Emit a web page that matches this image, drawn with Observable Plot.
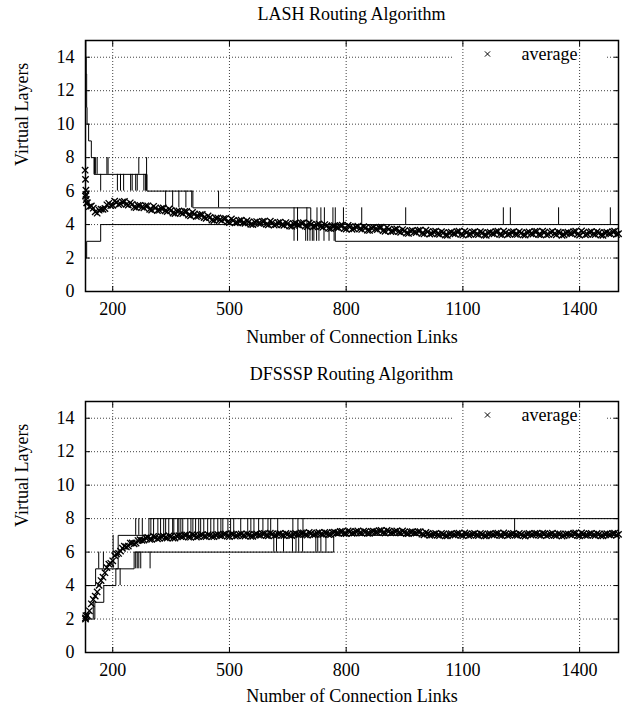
<!DOCTYPE html>
<html><head><meta charset="utf-8">
<script src="https://cdn.jsdelivr.net/npm/d3@7"></script>
<script src="https://cdn.jsdelivr.net/npm/@observablehq/plot@0.6"></script>
<style>
html,body{margin:0;padding:0;background:#fff;}
body{width:629px;height:706px;overflow:hidden;font-family:"Liberation Serif","Times New Roman",serif;color:#000;}
.title{height:28px;line-height:28px;font-size:18px;text-align:center;padding-left:85px;padding-right:11px;white-space:nowrap;}
svg{display:block;}
svg text{font-family:"Liberation Serif","Times New Roman",serif !important;}
</style></head>
<body>
<div id="p1"></div>
<div id="p2"></div>
<script>
// ---- axes / ticks ----
const xDomain = [130, 1500];
const yDomain = [0, 15];
const xTicks = [200, 500, 800, 1100, 1400];
const yTicks = [0, 2, 4, 6, 8, 10, 12, 14];
const yGrid = [2, 4, 6, 8, 10, 12, 14];
const avgStart = 130, avgStep = 5;   // "average" samples every 5 links from 130

// ---- LASH ----
const lashMaxSteps = [[130,15],[131,14],[132,13],[133,11],[134,10],[138,9],[145,8],[152,7],[288,6],[406,5],[709,4],[1500,4]];
const lashMinSteps = [[130,2],[133,3],[169,4],[772,3],[1500,3]];
const lashMaxSpikes = [[153,7,8],[156,7,8],[160,7,8],[169,6,7],[185,7,8],[188,7,8],
  [212,6,7],[220,6,7],[228,6,7],[246,6,7],[250,6,7],[259,6,7],[263,6,7],[280,6,7],[284,6,7],
  [267,7,8],[287,6,8],
  [336,5,6],[354,5,6],[370,5,6],[388,5,6],[403,5,6],[472,5,6],
  [666,4,5],[675,4,5],[699,4,5],[725,4,5],[735,4,5],[744,4,5],[766,4,5],[772,4,5],[793,4,5],
  [840,4,5],[953,4,5],[1204,4,5],[1222,4,5],[1346,4,5],[1479,4,5]];
const lashMinSpikes = [[666,3,4],[675,3,4],[696,3,4],[701,3,4],[707,3,4],[713,3,4],[717,3,4],[724,3,4],[730,3,4],[743,3,4],[756,3,4],[769,3,4]];
const lashAvgFirst = [[129,7.25],[130,6.7],[131,6.05],[131,5.8],[132,5.5],[133,5.3]];
const lashAvg = [
  5.70,5.30,5.07,5.11,4.98,4.76,4.68,4.86,4.92,4.91,4.96,5.18,5.27,5.13,5.15,5.40,5.33,5.20,5.24,5.35,
  5.38,5.21,5.16,5.30,5.21,5.04,5.01,5.14,5.15,5.04,5.00,5.12,5.12,4.91,4.87,5.09,5.00,4.84,4.86,4.96,
  4.99,4.82,4.78,4.93,4.85,4.69,4.66,4.80,4.81,4.70,4.66,4.78,4.78,4.57,4.52,4.73,4.64,4.48,4.50,4.59,
  4.60,4.42,4.37,4.51,4.43,4.27,4.24,4.38,4.39,4.28,4.24,4.36,4.37,4.16,4.12,4.34,4.25,4.10,4.12,4.23,
  4.26,4.10,4.07,4.23,4.16,4.01,4.00,4.15,4.18,4.08,4.06,4.19,4.21,4.01,3.98,4.20,4.12,3.97,4.00,4.11,
  4.15,3.99,3.96,4.12,4.06,3.91,3.90,4.05,4.08,3.98,3.96,4.09,4.11,3.91,3.88,4.10,4.02,3.87,3.89,4.00,
  4.04,3.88,3.84,4.00,3.93,3.78,3.76,3.91,3.93,3.83,3.81,3.94,3.96,3.76,3.73,3.95,3.87,3.72,3.75,3.86,
  3.90,3.74,3.71,3.87,3.81,3.66,3.65,3.80,3.83,3.73,3.70,3.83,3.84,3.64,3.60,3.82,3.73,3.58,3.60,3.71,
  3.74,3.58,3.54,3.70,3.63,3.49,3.47,3.62,3.65,3.55,3.52,3.65,3.67,3.47,3.44,3.66,3.58,3.43,3.46,3.57,
  3.61,3.45,3.42,3.58,3.52,3.37,3.36,3.52,3.55,3.46,3.44,3.58,3.60,3.41,3.38,3.61,
  3.53,3.39,3.42,3.54,3.58,3.43,3.40,3.57,3.51,3.37,3.36,3.52,3.55,3.46,3.44,3.58,3.60,3.41,3.38,3.61,
  3.52,3.40,3.43,3.55,3.57,3.42,3.41,3.58,3.50,3.38,3.37,3.53,3.56,3.45,3.43,3.59,3.59,3.40,3.39,3.60,
  3.54,3.38,3.41,3.53,3.59,3.44,3.39,3.56,3.52,3.36,3.38,3.51,3.54,3.47,3.45,3.57,3.61,3.42,3.37,3.62,
  3.53,3.39,3.42,3.54,3.58,3.43,3.40,3.57,3.51,3.37,3.36,3.52,3.55,3.46,3.44,3.58,3.60,3.41,3.45];

// ---- DFSSSP ----
const dfMaxSteps = [[130,4],[156,5],[214,7],[293,8],[1500,8]];
const dfMinSteps = [[130,2],[154,3],[177,4],[208,5],[255,6],[768,7],[1500,7]];
const dfMaxSpikes = [[164,5,6],[176,5,6],[201,5,7],[259,7,8],[267,7,8],[276,7,8],
  [298,7,8],[305,7,8],[316,7,8],[323,7,8],[331,7,8],[336,7,8],[344,7,8],[354,7,8],[357,7,8],[367,7,8],
  [370,7,8],[375,7,8],[380,7,8],[393,7,8],[401,7,8],[406,7,8],[413,7,8],[421,7,8],[426,7,8],[434,7,8],
  [444,7,8],[452,7,8],[460,7,8],[470,7,8],[478,7,8],[483,7,8],[496,7,8],[503,7,8],[511,7,8],[529,7,8],
  [547,7,8],[555,7,8],[563,7,8],[575,7,8],[586,7,8],[599,7,8],[606,7,8],[624,7,8],[663,7,8],[676,7,8],
  [689,7,8],[1233,7,8]];
const dfMinSpikes = [[150,2,3],[219,4,5],[259,5,6],[263,5,6],[267,5,6],[272,5,6],[296,5,6],
  [614,6,7],[621,6,7],[639,6,7],[662,6,7],[671,6,7],[678,6,7],[688,6,7],[722,6,7],[727,6,7],[735,6,7],[748,6,7]];
const dfAvgFirst = [[130,2.0],[131,2.2]];
const dfAvg = [
  2.07,2.21,2.49,2.91,3.17,3.37,3.62,4.01,4.30,4.50,4.77,5.07,5.28,5.33,5.48,5.79,5.89,5.92,6.06,6.23,
  6.35,6.31,6.36,6.54,6.55,6.50,6.54,6.69,6.74,6.70,6.72,6.85,6.88,6.77,6.76,6.93,6.89,6.80,6.83,6.92,
  6.96,6.86,6.84,6.96,6.93,6.84,6.84,6.96,6.98,6.92,6.91,7.02,7.03,6.90,6.89,7.05,7.00,6.90,6.93,7.01,
  7.04,6.94,6.92,7.04,7.01,6.92,6.92,7.03,7.05,6.98,6.97,7.07,7.08,6.95,6.93,7.09,7.05,6.95,6.97,7.05,
  7.08,6.98,6.96,7.08,7.04,6.94,6.94,7.06,7.08,7.01,7.00,7.10,7.11,6.99,6.97,7.13,7.08,6.98,7.00,7.09,
  7.12,7.01,6.99,7.11,7.07,6.98,6.98,7.09,7.11,7.05,7.04,7.14,7.15,7.03,7.01,7.17,7.12,7.03,7.05,7.14,
  7.17,7.07,7.05,7.18,7.14,7.05,7.05,7.17,7.19,7.13,7.12,7.23,7.24,7.12,7.10,7.27,7.22,7.12,7.14,7.23,
  7.26,7.15,7.13,7.25,7.22,7.12,7.12,7.23,7.25,7.19,7.18,7.28,7.29,7.16,7.14,7.30,7.25,7.15,7.16,7.24,
  7.27,7.16,7.14,7.26,7.21,7.11,7.10,7.21,7.22,7.15,7.13,7.22,7.22,7.07,7.03,7.17,7.11,7.00,7.02,7.09,
  7.12,7.01,6.99,7.11,7.07,6.97,6.97,7.08,7.10,7.03,7.02,7.12,7.13,7.00,6.98,7.14,7.09,6.99,7.01,7.09,
  7.12,7.01,6.99,7.11,7.07,6.97,6.97,7.08,7.10,7.03,7.02,7.12,7.13,7.00,6.98,7.14,7.09,6.99,7.01,7.09,
  7.11,7.02,7.00,7.12,7.06,6.98,6.96,7.09,7.11,7.02,7.03,7.11,7.12,7.01,6.99,7.13,7.10,6.98,7.02,7.08,
  7.13,7.00,6.98,7.10,7.08,6.96,6.98,7.07,7.09,7.04,7.01,7.13,7.14,6.99,6.97,7.15,7.08,7.00,7.00,7.10,
  7.12,7.01,6.99,7.11,7.07,6.97,6.97,7.08,7.10,7.03,7.02,7.12,7.13,7.00,7.06];

// legend layout (data units, white key box over the y=14 grid line)
const legendMaskX = [1074, 1468];

function panel(el, title, maxSteps, minSteps, maxSpikes, minSpikes, avg, avgFirst, marginTop, height, labelDy) {
  const t = document.createElement("div");
  t.className = "title";
  t.textContent = title;
  el.appendChild(t);
  const marginBottom = height - marginTop - 251;
  const font = {fontFamily: "Liberation Serif", fontSize: 18};
  const lineStyle = {stroke: "#000", strokeWidth: 1};
  const avgData = avg.map((v, i) => [avgStart + avgStep * i, v]).concat(avgFirst);
  const svg = Plot.plot({
    width: 629, height,
    marginLeft: 85, marginRight: 11, marginTop, marginBottom,
    style: {fontFamily: "Liberation Serif", fontSize: "18px", background: "#fff", overflow: "visible"},
    x: {domain: xDomain},
    y: {domain: yDomain},
    marks: [
      Plot.gridY(yGrid, {stroke: "#000", strokeOpacity: 0.75, strokeDasharray: "1,2", strokeWidth: 1}),
      Plot.gridX(xTicks, {stroke: "#000", strokeOpacity: 0.75, strokeDasharray: "1,2", strokeWidth: 1}),
      Plot.axisX(xTicks, {tickSize: 0, tickPadding: 11, label: null, tickFormat: d => String(d), ...font}),
      Plot.axisY(yTicks, {tickSize: 0, tickPadding: 11, label: null, tickFormat: d => String(d), ...font}),
      Plot.axisY(yTicks, {anchor: "left", tickSize: 5, dx: 5, tickFormat: () => "", label: null}),
      Plot.axisY(yTicks, {anchor: "right", tickSize: 5, dx: -5, tickFormat: () => "", label: null}),
      Plot.axisX(xTicks, {anchor: "bottom", tickSize: 5, dy: -5, tickFormat: () => "", label: null}),
      Plot.axisX(xTicks, {anchor: "top", tickSize: 5, dy: 5, tickFormat: () => "", label: null}),
      Plot.ruleX(maxSpikes, {x: d => d[0], y1: d => d[1], y2: d => d[2], ...lineStyle}),
      Plot.ruleX(minSpikes, {x: d => d[0], y1: d => d[1], y2: d => d[2], ...lineStyle}),
      Plot.line(maxSteps, {x: d => d[0], y: d => d[1], curve: "step-after", ...lineStyle}),
      Plot.line(minSteps, {x: d => d[0], y: d => d[1], curve: "step-after", ...lineStyle}),
      Plot.dot(avgData, {x: d => d[0], y: d => d[1], symbol: "times", r: 3, stroke: "#000", strokeWidth: 1.35}),
      Plot.frame({stroke: "#000", strokeWidth: 1.5}),
      Plot.dot([0], {frameAnchor: "top-right", dx: -131, dy: 13.5, symbol: "times", r: 2.5, stroke: "#000", strokeWidth: 1}),
      Plot.text(["average"], {frameAnchor: "top-right", dx: -41, dy: 13.5, textAnchor: "end", lineAnchor: "middle", ...font}),
      Plot.text(["Number of Connection Links"], {frameAnchor: "bottom", dy: labelDy, lineAnchor: "middle", ...font}),
      Plot.text(["Virtual Layers"], {frameAnchor: "left", dx: -63, rotate: -90, lineAnchor: "middle", ...font})
    ]
  });
  const g = svg.querySelector('g[aria-label="y-grid"]');
  if (g) {
    const sx = svg.scale("x"), sy = svg.scale("y");
    const r = document.createElementNS("http://www.w3.org/2000/svg", "rect");
    const x1 = sx.apply(legendMaskX[0]), x2 = sx.apply(legendMaskX[1]);
    const yy = sy.apply(14);
    r.setAttribute("x", x1); r.setAttribute("width", x2 - x1);
    r.setAttribute("y", yy - 4); r.setAttribute("height", 8);
    r.setAttribute("fill", "#fff");
    g.after(r);
  }
  el.appendChild(svg);
}

panel(document.getElementById("p1"), "LASH Routing Algorithm", lashMaxSteps, lashMinSteps, lashMaxSpikes, lashMinSpikes, lashAvg, lashAvgFirst, 12, 332, 46);
panel(document.getElementById("p2"), "DFSSSP Routing Algorithm", dfMaxSteps, dfMinSteps, dfMaxSpikes, dfMinSpikes, dfAvg, dfAvgFirst, 13, 318, 44);
</script>
</body></html>
